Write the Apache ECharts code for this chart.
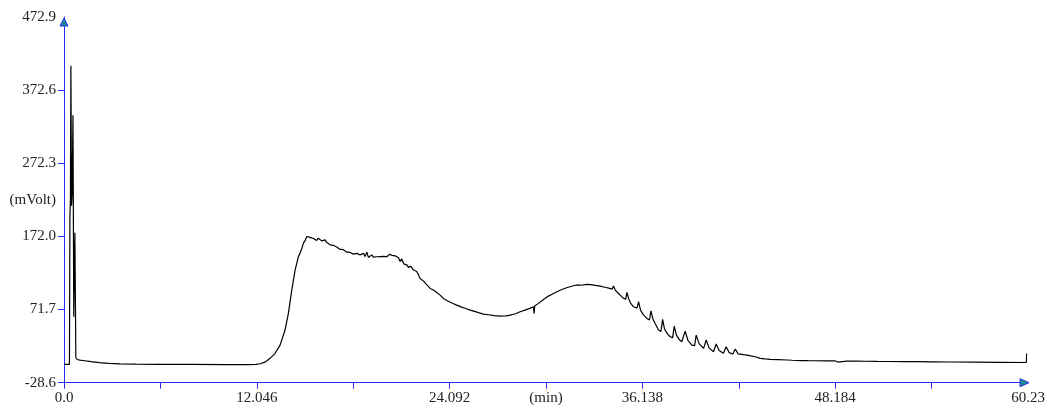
<!DOCTYPE html>
<html>
<head>
<meta charset="utf-8">
<title>Chromatogram</title>
<script src="https://cdn.jsdelivr.net/npm/echarts@6/dist/echarts.min.js"></script>
<style>
  html, body { margin: 0; padding: 0; background: #ffffff; }
  #chart { width: 1055px; height: 410px; }
</style>
</head>
<body>
<div id="chart"></div>
<script>
// Detector trace: retention time (min) and signal (mVolt)
const times = [
  0, 0.34, 0.37, 0.40, 0.43, 0.47, 0.51, 0.56, 0.61, 0.68, 0.74, 0.82, 1.0, 1.3, 1.7, 2.2, 2.8, 3.5, 4.5, 6,
  8, 10, 11.5, 12.0, 12.25, 12.6, 12.875, 13.19, 13.5, 13.81, 14.02, 14.23, 14.44, 14.64, 14.75, 14.86, 14.96, 15.06, 15.17, 15.27,
  15.375, 15.48, 15.58, 15.69, 15.79, 15.89, 16.0, 16.1, 16.2, 16.31, 16.42, 16.52, 16.63, 16.73, 16.84, 16.94, 17.04, 17.14, 17.25, 17.36,
  17.46, 17.56, 17.67, 17.77, 17.875, 17.98, 18.08, 18.19, 18.29, 18.4, 18.5, 18.6, 18.71, 18.81, 18.92, 19.02, 19.13, 19.23, 19.33, 19.44,
  19.54, 19.64, 19.75, 19.86, 19.96, 20.06, 20.17, 20.27, 20.35, 20.42, 20.5, 20.58, 20.69, 20.79, 20.9, 21.0, 21.1, 21.17, 21.25, 21.33,
  21.42, 21.52, 21.6, 21.67, 21.75, 21.83, 21.94, 22.04, 22.15, 22.25, 22.36, 22.46, 22.56, 22.67, 22.77, 22.875, 22.98, 23.08, 23.29, 23.5,
  23.7, 23.9, 24.1, 24.3, 24.54, 24.8, 25.1, 25.375, 25.6, 25.9, 26.2, 26.5, 26.9, 27.25, 27.3, 27.35, 27.6, 27.875, 28.2, 28.5,
  28.8, 29.1, 29.33, 29.37, 29.41, 29.6, 29.96, 30.2, 30.5, 30.8, 31.1, 31.45, 31.83, 32.1, 32.3, 32.4, 32.67, 32.9, 33.2, 33.5,
  33.8, 34.1, 34.25, 34.33, 34.44, 34.6, 34.75, 34.96, 35.1, 35.17, 35.28, 35.4, 35.58, 35.8, 35.9, 36.02, 36.2, 36.42, 36.58, 36.67,
  36.8, 36.95, 37.15, 37.3, 37.4, 37.52, 37.7, 37.875, 38.03, 38.125, 38.27, 38.45, 38.6, 38.72, 38.81, 38.98, 39.23, 39.4, 39.5, 39.68,
  39.96, 40.06, 40.125, 40.3, 40.58, 40.68, 40.75, 40.93, 41.2, 41.31, 41.375, 41.56, 41.79, 41.88, 41.94, 42.12, 42.45, 42.56, 42.67, 42.9,
  43.19, 43.5, 43.8, 44.125, 44.6, 45.17, 45.5, 45.55, 45.6, 46.0, 46.5, 46.9, 46.95, 47.0, 47.6, 47.65, 47.7, 48.2, 48.35, 48.4,
  48.9, 48.95, 49.0, 49.5, 49.55, 49.6, 50.1, 50.15, 50.2, 50.8, 50.85, 50.9, 51.6, 51.65, 51.7, 52.5, 52.55, 52.6, 53.3, 53.35,
  53.4, 54.2, 54.25, 54.3, 55.4, 55.45, 55.5, 57.0, 57.05, 57.1, 58.5, 60.13, 60.14
];

const mvolt = [
  -3.5, -3.5, 199, 222, 406, 214, 232, 338, 62, 177, 6, 3.2, 2.4, 1.5, 0.2, -1.2, -2.2, -2.8, -3.1, -3.4,
  -3.6, -3.7, -3.7, -3.4, -2.6, 0, 4.8, 11.7, 23, 43.6, 66.5, 98.4, 125.8, 144, 149.1, 155.5, 162.8, 166.2, 171.9, 174.1,
  170.6, 171.9, 169.2, 168.7, 166.5, 169.6, 167.0, 165.9, 164.6, 167.3, 163.5, 162.8, 160.5, 161.4, 159.6, 158.2, 157.4, 155.9, 154.2, 153.6,
  153.8, 152.2, 150.4, 151.3, 150.0, 149.5, 147.7, 148.2, 148.7, 146.3, 146.7, 147.9, 148.7, 144.6, 150.4, 143.2, 145.2, 146.7, 143.5, 142.2,
  144.1, 145.9, 144.4, 143.2, 144.5, 146.7, 144.2, 145.9, 147.5, 149.1, 146.0, 144.6, 145.4, 146.7, 142.8, 137.7, 141.3, 137.1, 134.0, 134.8,
  133.0, 129.5, 131.9, 130.9, 128.2, 126.2, 127.6, 124.0, 119.1, 114.4, 114.9, 110.7, 108.3, 105.5, 103.8, 100.7, 99.5, 98.4, 95.0, 91.5,
  87.0, 84.6, 82.0, 80.1, 77.8, 75.4, 73.1, 71.0, 69.5, 67.4, 65.5, 64.6, 63.4, 62.8, 61.5, 62.8, 63.0, 64.1, 66.0, 68.7,
  71.0, 73.3, 75.5, 66.2, 76.6, 79.5, 85.6, 89.4, 92.8, 96.1, 99.2, 102.0, 104.3, 105.6, 105.0, 106.1, 106.2, 105.8, 104.9, 103.9,
  102.3, 100.7, 99.8, 104.0, 98.4, 94.8, 91.5, 87.0, 86.0, 95.2, 86.6, 80.6, 75.5, 73.6, 82.4, 71.0, 64.4, 59.6, 57.4, 70.0,
  58.4, 51.8, 43.6, 41.7, 58.2, 45.0, 38.3, 34.4, 33.3, 49.1, 36.2, 30.4, 27.6, 26.9, 42.2, 29.6, 23.0, 22.3, 36.7, 25.0,
  18.5, 17.8, 29.9, 19.2, 13.9, 13.4, 24.4, 15.6, 11.7, 11.3, 20.7, 12.6, 10.7, 10.4, 17.6, 10.9, 9.9, 11.9, 9.3, 8.2,
  7.0, 4.8, 4.0, 3.4, 3.0, 2.5, 2.2, 0.8, 2.2, 1.8, 1.6, 1.5, 0.0, 1.5, 1.3, -0.2, 1.3, 1.2, -0.3, 1.1,
  1.0, -0.5, 1.0, 0.9, -0.6, 0.9, 0.8, -0.7, 0.8, 0.6, -0.8, 0.6, 0.5, -1.0, 0.5, 0.3, -1.2, 0.3, 0.2, -1.3,
  0.2, 0.0, -1.4, 0.0, -0.2, -1.6, -0.2, -0.5, -1.8, -0.5, -0.7, -0.9, 11.5
];

// Axis ranges and tick labels
const xMin = 0, xMax = 60.23;
const yMin = -28.6, yMax = 472.9;
const xTickValues = [0, 6.023, 12.046, 18.069, 24.092, 30.115, 36.138, 42.161, 48.184, 54.207];
const xLabelValues = [0, 12.046, 24.092, 30.115, 36.138, 48.184, 60.23];
const xLabelTexts = ['0.0', '12.046', '24.092', '(min)', '36.138', '48.184', '60.23'];
const yTickValues = [-28.6, 71.7, 172.0, 272.3, 372.6];
const yLabelValues = [-28.6, 71.7, 172.0, 222.0, 272.3, 372.6, 472.9];
const yLabelTexts = ['-28.6', '71.7', '172.0', '(mVolt)', '272.3', '372.6', '472.9'];

const AXIS_BLUE = '#2b2bf5';
const ARROW_FILL = '#1b8c8c';
const TEXT = '#222222';
const FONT = '"Liberation Serif", "Times New Roman", serif';

function labelFor(values, texts, v) {
  let best = 0;
  for (let i = 1; i < values.length; i++) {
    if (Math.abs(values[i] - v) < Math.abs(values[best] - v)) best = i;
  }
  return texts[best];
}

const chart = echarts.init(document.getElementById('chart'), null, { renderer: 'canvas' });

chart.setOption({
  animation: false,
  backgroundColor: '#ffffff',
  grid: { left: 64, right: 27, top: 17, bottom: 27.3, containLabel: false, outerBoundsMode: 'none' },
  xAxis: {
    type: 'value',
    min: xMin,
    max: xMax,
    splitLine: { show: false },
    axisLine: { show: true, onZero: false, lineStyle: { color: AXIS_BLUE, width: 1 } },
    axisTick: { show: true, length: 6, lineStyle: { color: AXIS_BLUE, width: 1 }, customValues: xTickValues },
    axisLabel: {
      customValues: xLabelValues,
      margin: 8,
      color: TEXT,
      fontFamily: FONT,
      fontSize: 15,
      formatter: v => labelFor(xLabelValues, xLabelTexts, v)
    }
  },
  yAxis: {
    type: 'value',
    min: yMin,
    max: yMax,
    splitLine: { show: false },
    axisLine: { show: true, onZero: false, lineStyle: { color: AXIS_BLUE, width: 1 } },
    axisTick: { show: true, length: 6, lineStyle: { color: AXIS_BLUE, width: 1 }, customValues: yTickValues },
    axisLabel: {
      customValues: yLabelValues,
      margin: 8,
      color: TEXT,
      fontFamily: FONT,
      fontSize: 15,
      formatter: v => labelFor(yLabelValues, yLabelTexts, v)
    }
  },
  series: [{
    type: 'line',
    data: times.map((t, i) => [t, mvolt[i]]),
    showSymbol: false,
    symbol: 'none',
    sampling: null,
    lineStyle: { color: '#000000', width: 1.2 },
    z: 5
  }]
});

// Arrowheads at the ends of both axes
const xEnd = chart.convertToPixel({ gridIndex: 0 }, [xMax, yMin]);
const yEnd = chart.convertToPixel({ gridIndex: 0 }, [xMin, yMax]);
chart.setOption({
  graphic: [
    {
      type: 'polygon',
      shape: { points: [[xEnd[0] + 1, xEnd[1]], [xEnd[0] - 8, xEnd[1] - 4], [xEnd[0] - 8, xEnd[1] + 4]] },
      style: { fill: ARROW_FILL, stroke: AXIS_BLUE, lineWidth: 1 },
      z: 20
    },
    {
      type: 'polygon',
      shape: { points: [[yEnd[0], yEnd[1] + 1], [yEnd[0] - 4, yEnd[1] + 9], [yEnd[0] + 4, yEnd[1] + 9]] },
      style: { fill: ARROW_FILL, stroke: AXIS_BLUE, lineWidth: 1 },
      z: 20
    }
  ]
});
</script>
</body>
</html>
